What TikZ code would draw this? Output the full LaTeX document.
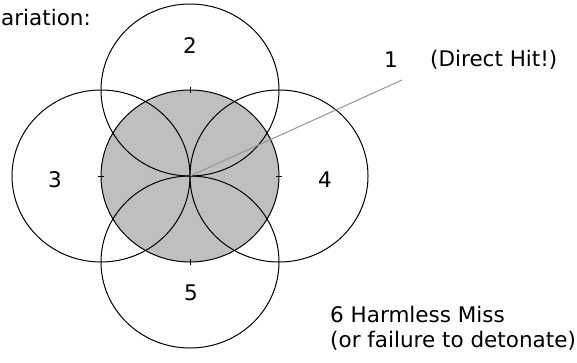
\documentclass[tikz,border=0pt]{standalone}
\usepackage{fontspec}
\setmainfont{DejaVu Sans}
\usetikzlibrary{positioning}

\tikzset{
  lbl/.style={font=\fontsize{21.5}{24}\selectfont,inner sep=0pt},
  ring/.style={draw=black,line width=1pt},
  pointer/.style={draw=black!42,line width=1pt}
}

\begin{document}
\begin{tikzpicture}[x=1pt,y=-1pt]
  \useasboundingbox (0,0) rectangle (577,362);
  % central zone
  \coordinate (hit) at (190,176);
  \fill[black!25] (hit) ellipse [x radius=89,y radius=86];
  \draw[ring] (hit) ellipse [x radius=89,y radius=86];
  % four outer zones
  \foreach \px/\py/\nm in {190/90/two, 101/176/three, 279/176/four, 190/262/five} {
    \coordinate (\nm) at (\px,\py);
    \draw[ring] (\nm) ellipse [x radius=89,y radius=86];
  }
  \draw[ring] (three) ++(-3,0) -- ++(6,0);
  \draw[ring] (four) ++(-3,0) -- ++(6,0);
  \draw[ring] (two) ++(0,-3) -- ++(0,6);
  \draw[ring] (five) ++(0,-3) -- ++(0,6);
  % labels
  \node[lbl,anchor=base west] (title) at (1,25) {ariation:};
  \node[lbl] (ltwo) at (190,46) {2};
  \node[lbl] (lthree) at (55,180) {3};
  \node[lbl] (lfour) at (325,180) {4};
  \node[lbl] (lfive) at (191,293) {5};
  \node[lbl] (lone) at (391,60) {1};
  \node[lbl,anchor=west] (direct) at (430,60) {(Direct Hit!)};
  \node[lbl,anchor=base west] (miss) at (330,322) {6 Harmless Miss};
  \node[lbl,anchor=base west] (fail) at (330,347) {(or failure to detonate)};
  \coordinate (tip) at (402,80);
  \draw[pointer] (hit) -- (tip);
\end{tikzpicture}
\end{document}
